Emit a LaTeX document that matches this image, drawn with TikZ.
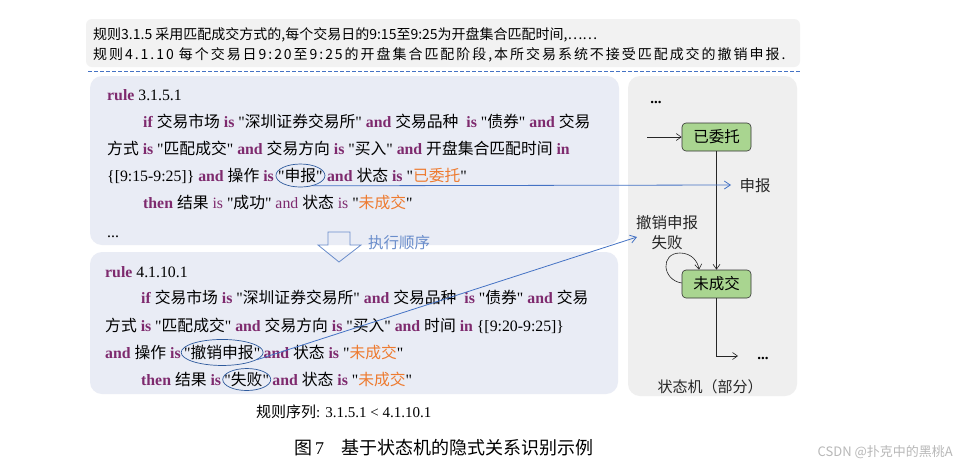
\documentclass[tikz,border=0pt]{standalone}
\usepackage{fontspec}
\setmainfont{Liberation Serif}[Ligatures=TeXOff]
\newfontfamily\cjk{Noto Sans CJK SC}
\usetikzlibrary{arrows.meta,shapes.geometric}
\definecolor{kwc}{HTML}{7E2A6E}
\definecolor{ogc}{HTML}{EE7B30}
\definecolor{bluel}{HTML}{4472C4}
\definecolor{rulebg}{HTML}{E9ECF5}
\definecolor{smbg}{HTML}{EFEFEF}
\definecolor{topbg}{HTML}{F2F2F2}
\definecolor{gfill}{HTML}{A9D590}
\definecolor{ellc}{HTML}{2E5A9C}
\definecolor{arrc}{HTML}{6A8DCB}
\newcommand\ZH[1]{{\cjk #1}}
\newcommand\KW[1]{\textbf{\color{kwc}#1}}
\newcommand\KN[1]{{\color{kwc}#1}}
\newcommand\OG[1]{{\color{ogc}\cjk #1}}
\begin{document}
\begin{tikzpicture}[x=1pt,y=-1pt,
  txt/.style={inner sep=0pt, anchor=base west, font=\fontsize{15.8}{16}\selectfont},
  smnode/.style={draw=black!80, fill=gfill, rounded corners=4pt, minimum width=69pt, minimum height=28pt, inner sep=0pt, font=\cjk\fontsize{15.5}{16}\selectfont, line width=0.6pt},
  ell/.style={draw=ellc, ellipse, inner sep=0pt, line width=0.7pt},
  blk/.style={draw=black!85, line width=0.6pt, -{Straight Barb[length=5pt,width=7pt]}},
  bl/.style={draw=bluel, line width=0.8pt, -{Straight Barb[length=6pt,width=8pt]}},
  lbl/.style={inner sep=0pt, font=\cjk\fontsize{15.5}{20}\selectfont, text=black!85}]
\useasboundingbox (0,0) rectangle (957,469);
\fill[white] (0,0) rectangle (957,469);
% backgrounds
\fill[topbg, rounded corners=6pt] (86,19) rectangle (800,67);
\draw[bluel, dash pattern=on 3.5pt off 2.5pt, line width=0.7pt] (88,71) -- (800,71);
\fill[rulebg, rounded corners=12pt] (90,76) rectangle (619,245);
\fill[rulebg, rounded corners=12pt] (90,252) rectangle (618,394);
\fill[smbg, rounded corners=12pt] (628,76) rectangle (797,396);
% top text
\node[anchor=west, inner sep=0pt, font=\cjk\fontsize{14}{14}\selectfont] (t1) at (93,35) {规则3.1.5 采用匹配成交方式的,每个交易日的9:15至9:25为开盘集合匹配时间,……};
\node[anchor=west, inner sep=0pt, font=\cjk\fontsize{14}{14}\selectfont\addfontfeature{LetterSpace=14}] (t2) at (93,55) {规则4.1.10 每个交易日9:20至9:25的开盘集合匹配阶段,本所交易系统不接受匹配成交的撤销申报.};
% upper rule
\node[txt] (r1) at (107,100) {\KW{rule} 3.1.5.1};
\node[txt] (r1a) at (143,127) {\KW{if} \ZH{交易市场} \KW{is} "\ZH{深圳证券交易所}" \KW{and} \ZH{交易品种}\ \ \KW{is} "\ZH{债券}" \KW{and} \ZH{交易}};
\node[txt] (r1b) at (107,154) {\ZH{方式} \KW{is} "\ZH{匹配成交}" \KW{and} \ZH{交易方向} \KW{is} "\ZH{买入}" \KW{and} \ZH{开盘集合匹配时间} \KW{in}};
\node[txt] (r1c) at (107,181.5) {\{[9:15-9:25]\} \KW{and} \ZH{操作} \KW{is}};
\node[txt] (q1) at ([xshift=4pt]r1c.base east) {"\ZH{申报}"};
\node[txt] (r1d) at ([xshift=4pt]q1.base east) {\KW{and} \ZH{状态} \KW{is} "\OG{已委托}"};
\node[txt] (r1e) at (143,208) {\KW{then} \ZH{结果} \KN{is} "\ZH{成功}" \KN{and} \ZH{状态} \KN{is} "\OG{未成交}"};
\node[txt] (r1f) at (107,237) {...};
\node[ell, minimum width=49pt, minimum height=23pt] (e1) at (q1.center) {};
% execution order arrow
\draw[arrc, line width=0.8pt, line join=miter] (328,232) -- (350,232) -- (350,245) -- (361,245) -- (339,262) -- (318,245) -- (328,245) -- cycle;
\node[inner sep=0pt, font=\cjk\fontsize{15.5}{16}\selectfont, text=arrc] (ex) at (399,243) {执行顺序};
% lower rule
\node[txt] (r2) at (105,277) {\KW{rule} 4.1.10.1};
\node[txt] (r2a) at (141,303.5) {\KW{if} \ZH{交易市场} \KW{is} "\ZH{深圳证券交易所}" \KW{and} \ZH{交易品种}\ \ \KW{is} "\ZH{债券}" \KW{and} \ZH{交易}};
\node[txt] (r2b) at (105,331) {\ZH{方式} \KW{is} "\ZH{匹配成交}" \KW{and} \ZH{交易方向} \KW{is} "\ZH{买入}" \KW{and} \ZH{时间} \KW{in} \{[9:20-9:25]\}};
\node[txt] (r2c) at (105,358.5) {\KW{and} \ZH{操作} \KW{is}};
\node[txt] (q2) at ([xshift=3pt]r2c.base east) {"\ZH{撤销申报}"};
\node[txt] (r2d) at ([xshift=3pt]q2.base east) {\KW{and} \ZH{状态} \KW{is} "\OG{未成交}"};
\node[txt] (r2e) at (141,385.5) {\KW{then} \ZH{结果} \KW{is}};
\node[txt] (q3) at ([xshift=3pt]r2e.base east) {"\ZH{失败}"};
\node[txt] (r2f) at ([xshift=3pt]q3.base east) {\KW{and} \ZH{状态} \KW{is} "\OG{未成交}"};
\node[ell, minimum width=82pt, minimum height=26pt] (e2) at (q2.center) {};
\node[ell, minimum width=48pt, minimum height=22pt] (e3) at (q3.center) {};
% state machine
\node[inner sep=0pt, font=\fontsize{15}{15}\selectfont\bfseries] (d1) at (656,102) {...};
\node[smnode] (A) at (716.5,137) {已委托};
\node[smnode] (B) at (716.5,284) {未成交};
\coordinate (ain) at (647,137);
\draw[blk] (ain) -- (A.west);
\draw[blk] (A) -- (B);
\draw[blk] ([yshift=1pt]B.west) .. controls (662,280) and (660,253) .. (680,253) .. controls (692,253) and (698,262) .. ([xshift=-17.5pt]B.north);
\coordinate (bout) at (738,356);
\draw[blk] (B.south) |- (bout);
\node[inner sep=0pt, font=\fontsize{15}{15}\selectfont\bfseries] (d2) at (763,358) {...};
\node[lbl] (sb) at (755,186) {申报};
\coordinate (sbend) at (731,185);
\draw[bl] (e1.-40) -- (sbend);
\node[lbl, align=center] (cxl) at (667,233) {撤销申报\\失败};
\coordinate (cxend) at (637,237);
\draw[bl] (e2.-12) -- (cxend);
\node[inner sep=0pt, font=\cjk\fontsize{15}{15}\selectfont, text=black!85] (smt) at (710,387) {状态机（部分）};
% bottom texts
\node[anchor=base west, inner sep=0pt, font=\fontsize{15}{15}\selectfont] (seq) at (256,417) {\ZH{规则序列}: 3.1.5.1 < 4.1.10.1};
\node[anchor=west, inner sep=0pt, font=\fontsize{18}{18}\selectfont] (cap) at (294,448) {\ZH{图}\,7\hspace{17pt}\ZH{基于状态机的隐式关系识别示例}};
\node[anchor=east, inner sep=0pt, text=black!28, font=\cjk\fontsize{13}{13}\selectfont] (wm) at (953,452) {CSDN @扑克中的黑桃A};
\end{tikzpicture}
\end{document}
